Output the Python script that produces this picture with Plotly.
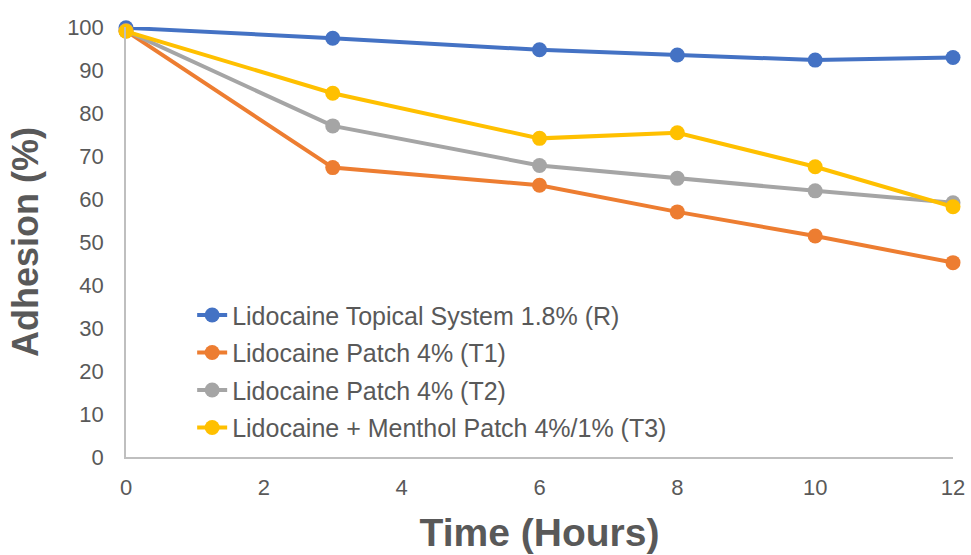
import plotly.graph_objects as go

time_h = [0, 3, 6, 8, 10, 12]
series_names = [
    "Lidocaine Topical System 1.8% (R)",
    "Lidocaine Patch 4% (T1)",
    "Lidocaine Patch 4% (T2)",
    "Lidocaine + Menthol Patch 4%/1% (T3)",
]
r_vals = [99.8, 97.4, 94.7, 93.5, 92.3, 92.9]
t1_vals = [99.1, 67.3, 63.2, 57.0, 51.4, 45.2]
t2_vals = [99.1, 77.0, 67.8, 64.8, 61.9, 59.1]
t3_vals = [99.0, 84.6, 74.1, 75.4, 67.5, 58.2]
colors = ["#4472C4", "#ED7D31", "#A5A5A5", "#FFC000"]
x_ticks = [0, 2, 4, 6, 8, 10, 12]
y_ticks = list(range(0, 101, 10))

fig = go.Figure()
for i, (name, vals, c) in enumerate(zip(series_names, [r_vals, t1_vals, t2_vals, t3_vals], colors)):
    fig.add_trace(go.Scatter(
        x=time_h, y=vals, name=name, mode="lines+markers",
        line=dict(color=c, width=4),
        marker=dict(color=c, size=15),
        cliponaxis=False,
        legendgroup=f"g{i}",
    ))

font_family = "Liberation Sans, Arial, sans-serif"
fig.update_layout(
    width=971, height=555,
    margin=dict(l=126, r=18, t=27, b=98, autoexpand=False),
    paper_bgcolor="white", plot_bgcolor="white",
    font=dict(family=font_family, color="#595959", size=22),
    showlegend=True,
    legend=dict(
        x=0.08, y=0.383, xanchor="left", yanchor="top",
        font=dict(size=25, color="#595959"),
        bgcolor="rgba(255,255,255,0)",
        tracegroupgap=2,
    ),
    xaxis=dict(
        range=[0, 12], tickvals=x_ticks, showgrid=False, zeroline=False,
        showline=True, linecolor="#BFBFBF", linewidth=1.5, automargin=False,
        ticks="", tickfont=dict(size=22, color="#595959"), ticklabelstandoff=10,
        ticklabeloverflow="allow",
        title=dict(text="<b>Time (Hours)</b>", font=dict(size=39, color="#595959"), standoff=20),
    ),
    yaxis=dict(
        range=[0, 100], tickvals=y_ticks, showgrid=False, zeroline=False,
        showline=True, linecolor="#BFBFBF", linewidth=1.5, automargin=False,
        ticks="", tickfont=dict(size=22, color="#595959"), ticklabelstandoff=16,
        title=dict(text="<b>Adhesion (%)</b>", font=dict(size=36, color="#595959"), standoff=18),
    ),
)

fig.write_html("out.html", config={"displayModeBar": False},
               post_script="document.body.style.margin='0';")
